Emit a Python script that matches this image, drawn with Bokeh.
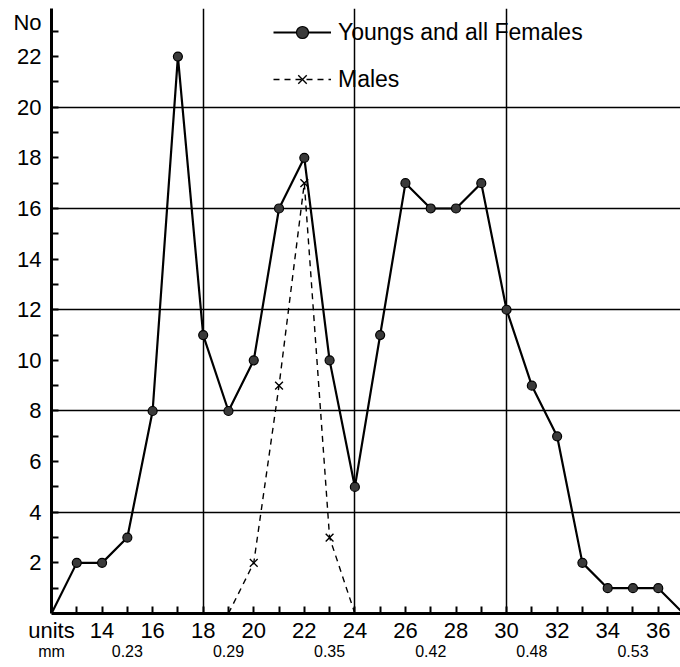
from bokeh.plotting import figure
from bokeh.models import (FixedTicker, LinearAxis, Legend, LegendItem)
from bokeh.embed import file_html
from bokeh.resources import INLINE

# Data: "Youngs and all Females"
fem_units = [12, 13, 14, 15, 16, 17, 18, 19, 20, 21, 22, 23, 24, 25, 26, 27, 28, 29, 30, 31, 32, 33, 34, 35, 36, 37]
fem_count = [0, 2, 2, 3, 8, 22, 11, 8, 10, 16, 18, 10, 5, 11, 17, 16, 16, 17, 12, 9, 7, 2, 1, 1, 1, 0]
fem_marked = [13, 14, 15, 16, 17, 18, 19, 20, 21, 22, 23, 24, 25, 26, 27, 28, 29, 30, 31, 32, 33, 34, 35, 36]

# Data: "Males"
male_units = [19, 20, 21, 22, 23, 24]
male_count = [0, 2, 9, 17, 3, 0]
male_marked = [20, 21, 22, 23]

# Axis ticks / labels
y_minor = list(range(1, 24))
y_major = [2, 4, 6, 8, 10, 12, 14, 16, 18, 20, 22, 23.35]
y_labels = ["2", "4", "6", "8", "10", "12", "14", "16", "18", "20", "22", "No"]
x_minor = list(range(13, 37))
x_major = [12, 14, 16, 18, 20, 22, 24, 26, 28, 30, 32, 34, 36]
x_labels = ["units", "14", "16", "18", "20", "22", "24", "26", "28", "30", "32", "34", "36"]
mm_pos = [12, 15, 19, 23, 27, 31, 35]
mm_labels = ["mm", "0.23", "0.29", "0.35", "0.42", "0.48", "0.53"]
vgrid = [18, 24, 30]
hgrid = [4, 8, 12, 16, 20]

FONT = "Liberation Sans"

p = figure(width=680, height=664, x_range=(12, 36.88), y_range=(0, 23.9),
           output_backend="svg", toolbar_location=None,
           min_border_left=51, min_border_right=0, min_border_top=8, min_border_bottom=51)
p.outline_line_color = None
p.background_fill_color = "white"

# grids
p.xgrid.ticker = FixedTicker(ticks=vgrid)
p.ygrid.ticker = FixedTicker(ticks=hgrid)
for g in (p.xgrid, p.ygrid):
    g.grid_line_color = "black"
    g.grid_line_width = 1.5
    g.grid_line_alpha = 1.0

def style_axis(ax, size, standoff):
    ax.major_tick_line_color = None
    ax.major_tick_in = 0
    ax.major_tick_out = 0
    ax.minor_tick_out = 0
    ax.major_label_text_font = FONT
    ax.major_label_text_font_size = size
    ax.major_label_standoff = standoff
    ax.major_label_text_color = "black"

# y axis
ya = p.yaxis[0]
ya.ticker = FixedTicker(ticks=y_major, minor_ticks=y_minor)
ya.major_label_overrides = dict(zip(y_major, y_labels))
style_axis(ya, "22px", 10)
ya.minor_tick_in = 7
ya.minor_tick_line_width = 2
ya.minor_tick_line_color = "black"
ya.axis_line_width = 3
ya.axis_line_color = "black"

# x axis
xa = p.xaxis[0]
xa.ticker = FixedTicker(ticks=x_major, minor_ticks=x_minor)
xa.major_label_overrides = dict(zip(x_major, x_labels))
style_axis(xa, "22px", 4)
xa.minor_tick_in = 7
xa.minor_tick_line_width = 2
xa.minor_tick_line_color = "black"
xa.axis_line_width = 3
xa.axis_line_color = "black"

# mm axis
mm_axis = LinearAxis(ticker=FixedTicker(ticks=mm_pos, minor_ticks=[]),
                     major_label_overrides=dict(zip(mm_pos, mm_labels)))
style_axis(mm_axis, "16px", -3)
mm_axis.axis_line_color = None
mm_axis.minor_tick_line_color = None
mm_axis.minor_tick_in = 0
p.add_layout(mm_axis, "below")

# data
l1 = p.line(fem_units, fem_count, line_color="black", line_width=2.2)
fy = [fem_count[fem_units.index(u)] for u in fem_marked]
s1 = p.scatter(fem_marked, fy, marker="circle", size=9, fill_color="#3a3a3a",
               line_color="black", line_width=1.2)

l2 = p.line(male_units, male_count, line_color="black", line_width=1.4, line_dash="6 5")
my = [male_count[male_units.index(u)] for u in male_marked]
s2 = p.scatter(male_marked, my, marker="x", size=11, line_color="black", line_width=1.4)

legend = Legend(items=[LegendItem(label="Youngs and all Females", renderers=[l1, s1]),
                       LegendItem(label="Males", renderers=[l2, s2])],
                location=(222, 519))
legend.border_line_color = None
legend.background_fill_alpha = 0
legend.label_text_font = FONT
legend.label_text_font_size = "23px"
legend.label_text_color = "black"
legend.glyph_width = 58
legend.glyph_height = 30
legend.label_height = 30
legend.spacing = 17
legend.padding = 0
legend.margin = 0
legend.label_standoff = 7
p.add_layout(legend)

open("out.html", "w").write(file_html(p, INLINE))
